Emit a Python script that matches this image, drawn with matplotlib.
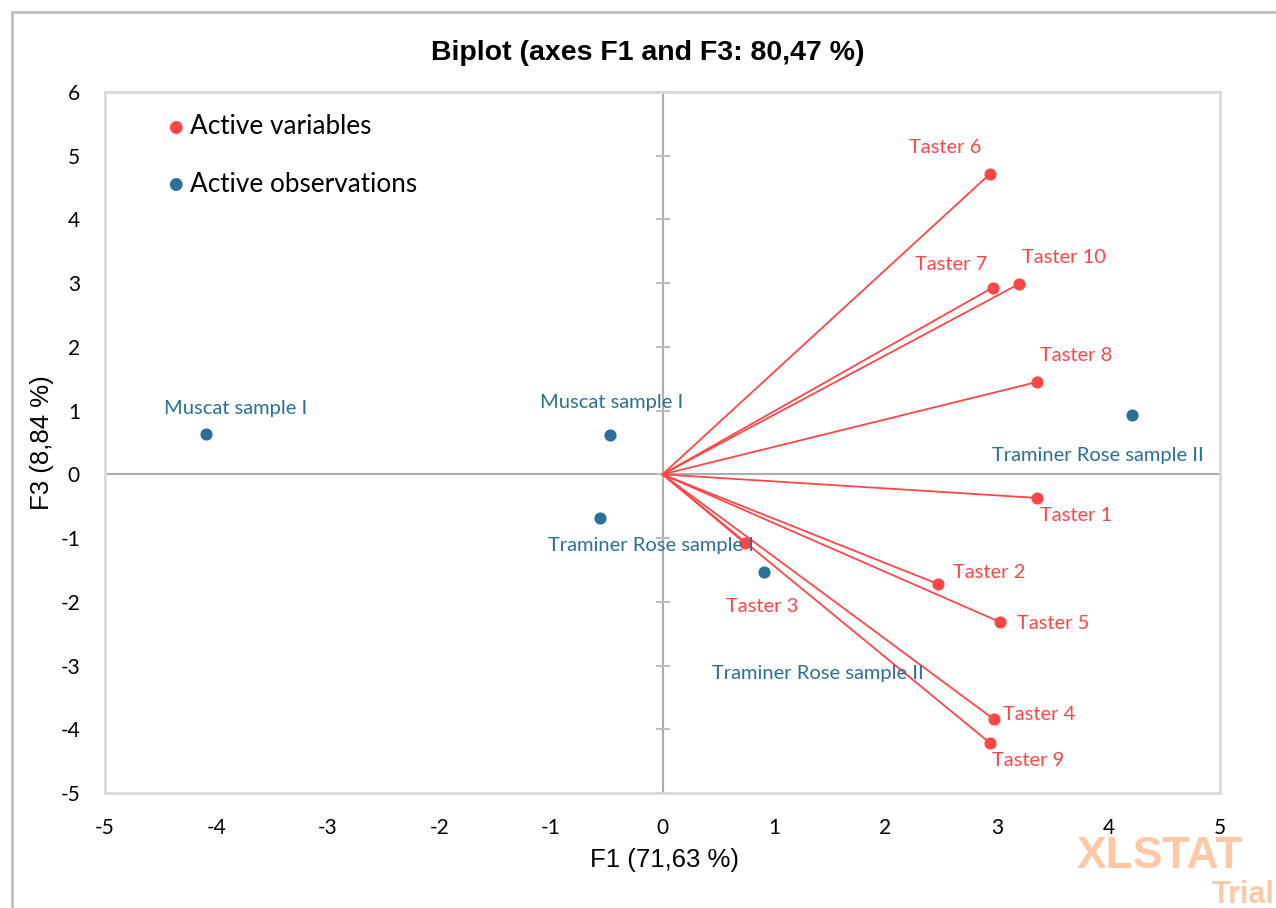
import numpy as np
import matplotlib
matplotlib.use('Agg')
import matplotlib.pyplot as plt

plt.rcParams['axes.unicode_minus'] = False

# variables (tasters)
tasters = ['Taster 1', 'Taster 2', 'Taster 3', 'Taster 4', 'Taster 5',
           'Taster 6', 'Taster 7', 'Taster 8', 'Taster 9', 'Taster 10']
f1_var = [3.36, 2.47, 0.74, 2.97, 3.03, 2.94, 2.96, 3.36, 2.94, 3.20]
f3_var = [-0.37, -1.72, -1.08, -3.84, -2.32, 4.72, 2.93, 1.45, -4.22, 2.99]

# observations
obs = ['Muscat sample I', 'Muscat sample I', 'Traminer Rose sample I',
       'Traminer Rose sample II', 'Traminer Rose sample II']
f1_obs = [-4.09, -0.47, -0.565, 0.906, 4.21]
f3_obs = [0.63, 0.62, -0.68, -1.53, 0.93]

# label offsets in pixels (dx, dy)
off_var = [(39, -18), (51, 11), (17, -63), (46, 5), (53, -1),
           (-45, 26), (-41, 23), (39, 26), (38, -17), (45, 26)]
off_obs = [(29, 26), (2, 32), (51, -28), (54, -102), (-34, -40)]

red = '#FF4646'
blue = '#2B7097'
lab_font = ['Lato', 'DejaVu Sans']
arial = ['Liberation Sans Narrow', 'Liberation Sans']

fig = plt.figure(figsize=(12.76, 9.08), dpi=100)
ax = fig.add_axes([105/1276, 1 - 793/908, 1115/1276, 701/908])

ax.set_xlim(-5, 5)
ax.set_ylim(-5, 6)
xt = np.arange(-5, 6)
yt = np.arange(-5, 7)
ax.set_xticks(xt)
ax.set_yticks(yt)
ax.tick_params(length=0, labelsize=15, pad=18)
for lab in ax.get_xticklabels() + ax.get_yticklabels():
    lab.set_fontfamily(lab_font)
for s in ax.spines.values():
    s.set_color('#D9D9D9')
    s.set_linewidth(2)

# axes through origin, cross ticks on the vertical one
ax.axhline(0, color='#ADADAD', lw=1.5, zorder=1)
ax.axvline(0, color='#ADADAD', lw=1.5, zorder=1)
ax.plot(np.zeros(len(yt)), yt, ls='none', marker='_', ms=10, mew=1.5,
        color='#BDBDBD', zorder=1, clip_on=False)

for i in range(len(tasters)):
    ax.plot([0, f1_var[i]], [0, f3_var[i]], color=red, lw=1.3, zorder=2)
ax.scatter(f1_var, f3_var, s=60, color=red, zorder=3)
for i, t in enumerate(tasters):
    ax.annotate(t, (f1_var[i], f3_var[i]), xytext=off_var[i],
                textcoords='offset pixels', ha='center', va='center',
                color=red, fontsize=14.5, family=lab_font)

ax.scatter(f1_obs, f3_obs, s=60, color=blue, zorder=3)
for i, o in enumerate(obs):
    ax.annotate(o, (f1_obs[i], f3_obs[i]), xytext=off_obs[i],
                textcoords='offset pixels', ha='center', va='center',
                color=blue, fontsize=14.5, family=lab_font)

# legend
fig.text(175/1276, 1 - 127/908, '\u25cf', color=red, fontsize=12,
         ha='center', va='center')
fig.text(190/1276, 1 - 127/908, 'Active variables', fontsize=18.8,
         family=lab_font, va='center')
fig.text(175/1276, 1 - 184/908, '\u25cf', color=blue, fontsize=12,
         ha='center', va='center')
fig.text(190/1276, 1 - 184/908, 'Active observations', fontsize=18.8,
         family=lab_font, va='center')

fig.text(648/1276, 1 - 53/908, 'Biplot (axes F1 and F3: 80,47 %)',
         fontsize=20.5, fontweight='bold', family=arial,
         ha='center', va='center')
fig.text(664/1276, 1 - 860/908, 'F1 (71,63 %)', fontsize=18.5,
         family=arial, ha='center', va='center')
fig.text(42/1276, 1 - 443/908, 'F3 (8,84 %)', fontsize=18.5, rotation=90,
         family=arial, ha='center', va='center')

# watermark
fig.text(1077/1276, 1 - 857/908, 'XLSTAT', fontsize=32, fontweight='bold',
         color='#FDC8A6', family=['Liberation Sans'], ha='left', va='center')
fig.text(1274/1276, 1 - 895/908, 'Trial', fontsize=22, fontweight='bold',
         color='#FDC8A6', family=['Liberation Sans'], ha='right', va='center')

# outer border
fig.patches.append(plt.Rectangle((12/1276, -0.1), 1.2, 1 - 12/908 + 0.1,
                                 transform=fig.transFigure, fill=False,
                                 edgecolor='#BFBFBF', lw=2))

fig.savefig('out.png', dpi=100)
